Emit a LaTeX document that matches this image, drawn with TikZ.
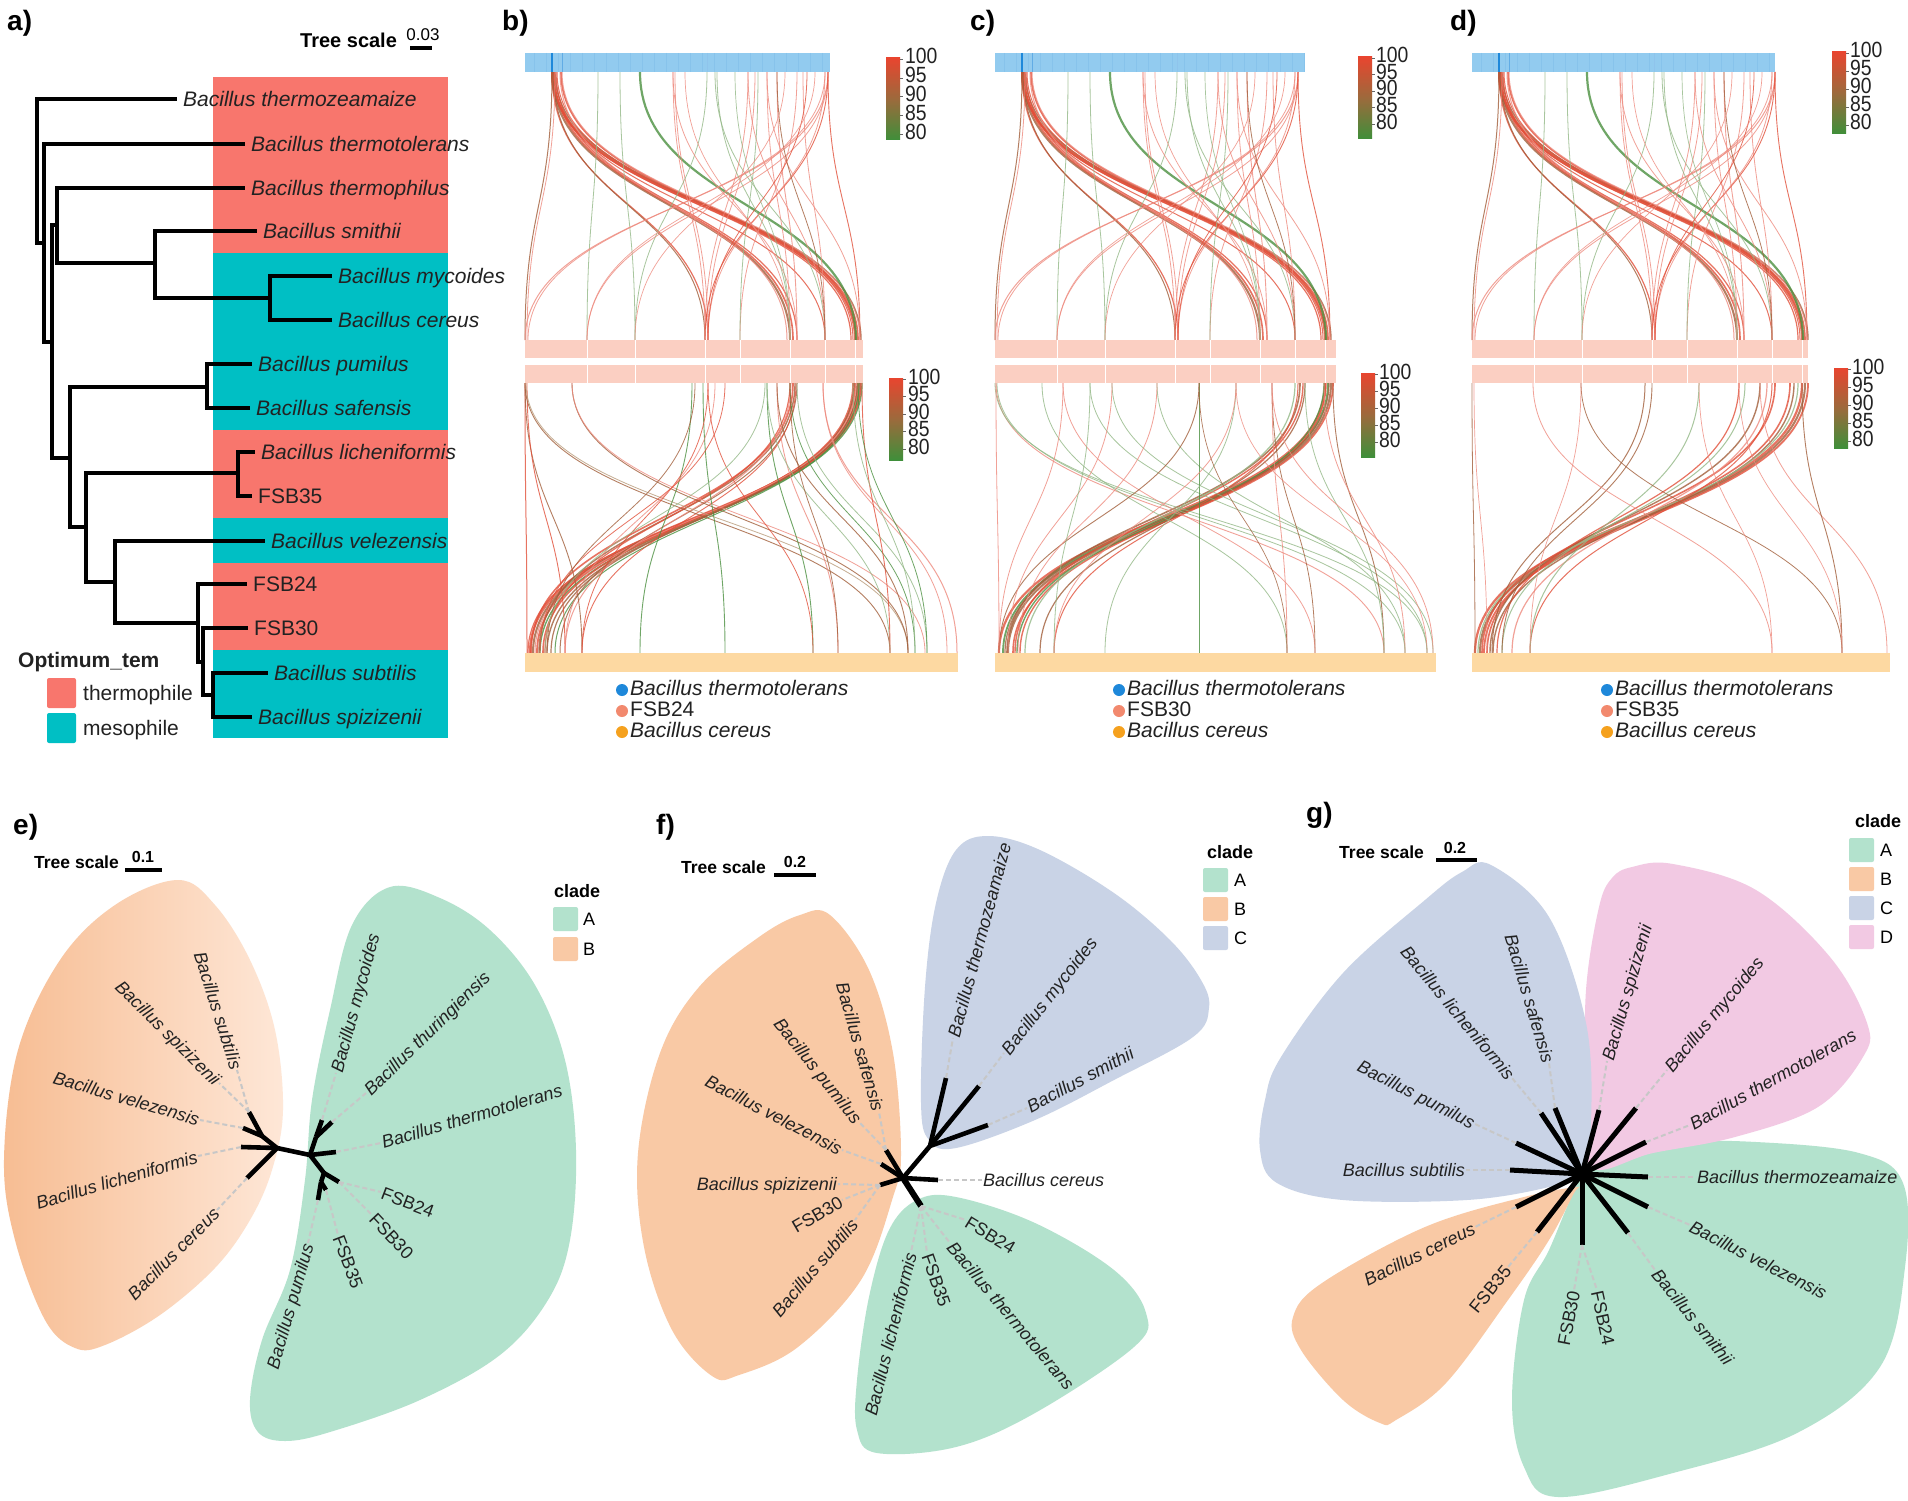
\documentclass[tikz,border=0pt]{standalone}
\usepackage{fontspec}
\setmainfont{Liberation Sans}
\definecolor{txt}{HTML}{222222}
\definecolor{thermo}{HTML}{F8766D}
\definecolor{meso}{HTML}{00BFC4}
\definecolor{cA}{HTML}{B3E2CD}
\definecolor{cB}{HTML}{F9C9A5}
\definecolor{cBd}{HTML}{F7BD93}
\definecolor{cBl}{HTML}{FEE7D7}
\definecolor{cC}{HTML}{C9D3E6}
\definecolor{cD}{HTML}{F2C9E3}
\definecolor{bblue}{HTML}{92CBEF}
\definecolor{sblue}{HTML}{7DBDE8}
\definecolor{bpink}{HTML}{FBCFC2}
\definecolor{borange}{HTML}{FDD9A2}
\definecolor{sr}{HTML}{E2503A}
\definecolor{sb}{HTML}{A25E3A}
\definecolor{sg}{HTML}{4C9040}
\definecolor{sp}{HTML}{EE8A7E}
\definecolor{sq}{HTML}{93B886}
\definecolor{so}{HTML}{B89A78}
\definecolor{dblue}{HTML}{1E88DA}
\definecolor{dsalmon}{HTML}{F2896E}
\definecolor{dorange}{HTML}{F5A11E}
\definecolor{cbred}{HTML}{E8452F}
\definecolor{cbmid}{HTML}{9C6A3C}
\definecolor{cbgreen}{HTML}{3F8F3A}

\def\UHlist{27/330/sr/2.0, 28/333/sr/1.6, 30/336/sb/1.4, 27/326/sr/1.2, 32/328/sr/1.0, 36/331/sr/1.6, 37/335/sp/1.0, 29/300/sr/1.0, 27/265/sb/2.0, 29/268/sr/1.6, 31/272/sr/1.2, 35/262/sp/1.0, 27/183/sr/1.2, 28/180/sb/1.0, 27/0/sb/1.0, 30/2/sp/0.8, 115/331/sg/2.2, 73/62/sq/0.8, 95/110/sq/0.8, 148/180/sp/0.8, 150/183/sp/0.8, 182/110/sq/0.8, 190/300/sq/0.8, 223/180/sp/0.8, 230/183/sp/0.8, 242/265/sp/0.8, 252/272/sp/0.9, 272/215/sp/0.8, 278/300/sp/0.8, 303/0/sp/1.0, 300/3/sp/0.8, 303/62/sp/0.8, 303/180/sr/0.9, 300/183/sp/0.8, 303/335/sr/0.9, 223/300/sp/0.8, 242/335/sp/0.8, 252/300/sb/0.8, 192/265/sq/0.8, 233/215/sq/0.8, 148/272/sp/0.8, 160/265/sp/0.7, 260/110/sp/0.7, 282/183/sr/0.8, 290/62/sp/0.7, 210/265/sq/0.7}
\def\LHb{333/5/sr/2.2, 335/8/sb/2.0, 330/12/sr/1.8, 337/15/sg/1.4, 328/18/sr/1.6, 332/22/sb/1.4, 336/3/sr/1.2, 329/26/sb/1.2, 334/30/sg/1.0, 331/10/sp/1.0, 268/6/sr/1.6, 270/14/sb/1.4, 265/20/sr/1.2, 272/35/sb/1.0, 266/40/sp/1.0, 271/57/sr/0.9, 0/2/sr/1.0, 0/57/sb/0.9, 2/40/sr/0.9, 0/365/sb/0.9, 1/383/so/0.8, 47/383/sb/0.9, 47/400/sp/0.8, 167/115/sg/0.9, 178/200/sg/0.9, 183/57/sr/0.8, 242/288/sg/0.9, 252/313/sp/0.9, 242/365/sq/0.8, 265/390/sg/0.8, 272/402/sq/0.8, 298/432/sp/1.0, 298/422/sp/0.8, 337/365/sr/0.9, 333/402/sg/0.8, 328/390/sq/0.8, 190/40/sp/0.8, 200/15/sr/0.8, 170/22/sb/0.8, 252/383/sb/0.9, 265/313/sb/0.8, 183/288/sr/0.8, 240/20/sq/0.8}
\def\LHc{330/4/sr/2.2, 333/8/sg/1.8, 336/13/sb/2.0, 338/18/sr/1.6, 329/22/sg/1.4, 331/25/sr/1.4, 334/10/sb/1.2, 305/12/sb/1.6, 308/20/sr/1.4, 300/30/sq/1.2, 310/45/sb/1.2, 303/59/sr/1.0, 1/389/sp/0.9, 2/410/sq/0.8, 0/432/sq/0.8, 1/4/sp/0.8, 47/292/sq/0.8, 68/320/sp/0.8, 95/432/sq/0.8, 117/438/sq/0.8, 162/410/sq/0.8, 204/204/sg/0.8, 204/4/sb/0.9, 241/110/sq/0.8, 241/59/sp/0.8, 277/320/sb/0.8, 277/292/sp/0.8, 338/389/sb/0.9, 329/410/sp/0.8, 162/23/sp/0.8, 117/13/sp/0.8, 68/4/sp/0.8, 95/59/sq/0.8, 310/389/sq/0.8, 277/438/sp/0.8, 204/292/sb/0.7, 241/432/sp/0.7}
\def\LHd{330/3/sr/2.2, 333/8/sb/2.0, 336/12/sr/1.8, 318/15/sr/1.6, 322/21/sb/1.4, 326/6/sq/1.2, 303/10/sr/1.6, 288/18/sb/1.4, 267/25/sr/1.2, 295/40/sp/1.2, 300/58/sr/1.0, 273/30/sq/1.0, 173/20/sb/1.0, 227/58/sq/1.0, 180/30/sb/0.9, 0/3/sb/0.8, 61/300/sp/0.8, 109/370/sb/0.8, 288/415/sp/0.8, 330/370/sb/0.9, 227/300/sp/0.7, 267/370/sp/0.7, 2/15/sp/0.7, 109/58/sp/0.7}

\newcommand\synpanel[5]{%
\begin{scope}[shift={(#1,0)}]
 \foreach \a/\b/\c/\w in \UHlist {\draw[draw=\c, line width=\w pt, draw opacity=.8] (\a,72) .. controls (\a,206) and (\b,206) .. (\b,340);}
 \foreach \a/\b/\c/\w in #5 {\draw[draw=\c, line width=\w pt, draw opacity=.8] (\a,383) .. controls (\a,518) and (\b,518) .. (\b,653);}
 \fill[bblue] (0,53) rectangle (#2,72);
 \foreach \t in {9,21,...,#2} {\draw[sblue, line width=.5pt, draw opacity=.5] (\t,53) -- (\t,72);}
 \draw[dblue, line width=1.4pt] (27,53) -- (27,72);
 \draw[dblue!70, line width=1pt] (37,53) -- (37,72);
 \draw[dblue!50, line width=.8pt] (182,53) -- (182,72);
 \fill[bpink] (0,340) rectangle (#3,358);
 \fill[bpink] (0,365) rectangle (#3,383);
 \foreach \t in {62,110,180,215,265,300,330} {\draw[white, line width=.7pt] (\t,340) -- (\t,383);}
 \fill[borange] (0,653) rectangle (#4,672);
\end{scope}}

\newcommand\cbar[6]{% name, x, ytop, ybot, labelx, step
 \shade[top color=cbred, bottom color=cbgreen, middle color=cbmid] (#2,#3) rectangle ({#2+14},#4);
 \foreach \v [count=\i from 0] in {100,95,90,85,80} {
   \draw[black!60, line width=.5pt] ({#2+14},{#6*\i+#3+1}) -- ({#2+17},{#6*\i+#3+1});
   \node[cbl] (#1\i) at (#5,{#3-1+#6*\i}) {\v};}
}

\begin{document}
\begin{tikzpicture}[x=1pt,y=-1pt,
 lab/.style={font=\fontsize{21}{24}\selectfont, text=txt, inner sep=0pt, text height=15pt, text depth=0pt},
 tl/.style={font=\fontsize{18}{20}\selectfont\itshape, text=txt, inner sep=1pt, text height=13pt, text depth=0pt},
 tlu/.style={font=\fontsize{18}{20}\selectfont, text=txt, inner sep=1pt, text height=13pt, text depth=0pt},
 pl/.style={font=\fontsize{28}{30}\selectfont\bfseries, inner sep=0pt, anchor=base west},
 ts/.style={font=\fontsize{17.5}{19}\selectfont\bfseries, inner sep=0pt, anchor=base west},
 tsn/.style={font=\fontsize{16}{18}\selectfont\bfseries, inner sep=0pt, anchor=base},
 cbl/.style={font=\fontsize{22}{22}\selectfont, text=txt, inner sep=0pt, anchor=west, text height=14pt, text depth=0pt, xscale=.88},
 abr/.style={line width=3.4pt, line join=miter},
 br/.style={line width=4.6pt, line cap=butt, line join=round},
 dsh/.style={draw=black!22, line width=2pt, dash pattern=on 5pt off 3pt},
 lgd/.style={font=\fontsize{18}{20}\selectfont, inner sep=0pt, anchor=west},
 lgt/.style={font=\fontsize{18}{20}\selectfont\bfseries, inner sep=0pt, anchor=base west},
]
\useasboundingbox (0,0) rectangle (1908,1501);
\fill[white] (0,0) rectangle (1908,1501);

%%%%%%%%%%%%%%%% panel a
\node[pl] (pa) at (7,31) {a)};
\node[ts, font=\fontsize{20}{22}\selectfont\bfseries] (tsa) at (300,48) {Tree scale};
\coordinate (sba1) at (410,48); \coordinate (sba2) at (432,48);
\draw[line width=3.5pt] (sba1) -- (sba2);
\node[tsn, font=\fontsize{17}{18}\selectfont] (tsna) at (423,41) {0.03};

\fill[thermo] (213,77) rectangle (448,253);
\fill[meso] (213,253) rectangle (448,430);
\fill[thermo] (213,430) rectangle (448,518);
\fill[meso] (213,518) rectangle (448,563);
\fill[thermo] (213,563) rectangle (448,650);
\fill[meso] (213,650) rectangle (448,738);

\coordinate (aR) at (37,171);  \coordinate (aN2) at (44,243);  \coordinate (aN3) at (52,342);
\coordinate (aN4) at (57,225); \coordinate (aN6) at (155,263); \coordinate (aN7) at (270,298);
\coordinate (aN5) at (70,458); \coordinate (aN8) at (207,387); \coordinate (aN9) at (86,527);
\coordinate (aN10) at (238,473); \coordinate (aN11) at (115,582); \coordinate (aN12) at (198,623);
\coordinate (aN13) at (203,662); \coordinate (aN14) at (213,695);
\coordinate (aT1) at (177,99);  \coordinate (aT2) at (245,144); \coordinate (aT3) at (245,188);
\coordinate (aT4) at (257,231); \coordinate (aT5) at (332,276); \coordinate (aT6) at (332,320);
\coordinate (aT7) at (252,364); \coordinate (aT8) at (250,408); \coordinate (aT9) at (255,452);
\coordinate (aT10) at (252,496); \coordinate (aT11) at (265,541); \coordinate (aT12) at (247,584);
\coordinate (aT13) at (248,628); \coordinate (aT14) at (268,673); \coordinate (aT15) at (252,717);
\draw[abr] (aR) |- (aT1); \draw[abr] (aR) |- (aN2);
\draw[abr] (aN2) |- (aT2); \draw[abr] (aN2) |- (aN3);
\draw[abr] (aN3) |- (aN4); \draw[abr] (aN3) |- (aN5);
\draw[abr] (aN4) |- (aT3); \draw[abr] (aN4) |- (aN6);
\draw[abr] (aN6) |- (aT4); \draw[abr] (aN6) |- (aN7);
\draw[abr] (aN7) |- (aT5); \draw[abr] (aN7) |- (aT6);
\draw[abr] (aN5) |- (aN8); \draw[abr] (aN5) |- (aN9);
\draw[abr] (aN8) |- (aT7); \draw[abr] (aN8) |- (aT8);
\draw[abr] (aN9) |- (aN10); \draw[abr] (aN9) |- (aN11);
\draw[abr] (aN10) |- (aT9); \draw[abr] (aN10) |- (aT10);
\draw[abr] (aN11) |- (aT11); \draw[abr] (aN11) |- (aN12);
\draw[abr] (aN12) |- (aT12); \draw[abr] (aN12) |- (aN13);
\draw[abr] (aN13) |- (aT13); \draw[abr] (aN13) |- (aN14);
\draw[abr] (aN14) |- (aT14); \draw[abr] (aN14) |- (aT15);

\node[lab,anchor=west] (la1) at (183,99) {\textit{Bacillus thermozeamaize}};
\node[lab,anchor=west] (la2) at (251,144) {\textit{Bacillus thermotolerans}};
\node[lab,anchor=west] (la3) at (251,188) {\textit{Bacillus thermophilus}};
\node[lab,anchor=west] (la4) at (263,231) {\textit{Bacillus smithii}};
\node[lab,anchor=west] (la5) at (338,276) {\textit{Bacillus mycoides}};
\node[lab,anchor=west] (la6) at (338,320) {\textit{Bacillus cereus}};
\node[lab,anchor=west] (la7) at (258,364) {\textit{Bacillus pumilus}};
\node[lab,anchor=west] (la8) at (256,408) {\textit{Bacillus safensis}};
\node[lab,anchor=west] (la9) at (261,452) {\textit{Bacillus licheniformis}};
\node[lab,anchor=west] (la10) at (258,496) {FSB35};
\node[lab,anchor=west] (la11) at (271,541) {\textit{Bacillus velezensis}};
\node[lab,anchor=west] (la12) at (253,584) {FSB24};
\node[lab,anchor=west] (la13) at (254,628) {FSB30};
\node[lab,anchor=west] (la14) at (274,673) {\textit{Bacillus subtilis}};
\node[lab,anchor=west] (la15) at (258,717) {\textit{Bacillus spizizenii}};

\node[font=\fontsize{21}{24}\selectfont\bfseries, text=txt, inner sep=0pt, anchor=base west] (aleg) at (18,667) {Optimum\_tem};
\fill[thermo, rounded corners=2pt] (47,678) rectangle (76,708);
\fill[meso, rounded corners=2pt] (47,713) rectangle (76,743);
\node[lab,anchor=west] (aleg1) at (83,693) {thermophile};
\node[lab,anchor=west] (aleg2) at (83,728) {mesophile};

%%%%%%%%%%%%%%%% panels b c d
\node[pl] (pb) at (502,31) {b)};
\node[pl] (pc) at (970,31) {c)};
\node[pl] (pd) at (1450,31) {d)};
\synpanel{525}{305}{338}{433}{\LHb}
\synpanel{995}{310}{341}{441}{\LHc}
\synpanel{1472}{303}{336}{418}{\LHd}

\cbar{cbb1}{886}{58}{140}{905}{18.8}
\cbar{cbb2}{889}{378}{460}{908}{17.5}
\cbar{cbc1}{1358}{57}{139}{1376}{16.5}
\cbar{cbc2}{1361}{373}{457}{1379}{17}
\cbar{cbd1}{1832}{52}{134}{1850}{18}
\cbar{cbd2}{1834}{368}{448}{1852}{18}

\foreach \px/\nm/\k in {622/FSB24/b, 1119/FSB30/c, 1607/FSB35/d} {
  \fill[dblue] (\px,690) circle[radius=6pt];
  \fill[dsalmon] (\px,711) circle[radius=6pt];
  \fill[dorange] (\px,732) circle[radius=6pt];
  \node[lab,anchor=west] (lg\k1) at (\px+8,688) {\textit{Bacillus thermotolerans}};
  \node[lab,anchor=west] (lg\k2) at (\px+8,709) {\nm};
  \node[lab,anchor=west] (lg\k3) at (\px+8,730) {\textit{Bacillus cereus}};
}

%%%%%%%%%%%%%%%% panel e
\node[pl] (pe) at (13,834) {e)};
\node[ts] (tse) at (34,868) {Tree scale};
\coordinate (sbe1) at (125,870); \coordinate (sbe2) at (162,870);
\draw[line width=4pt] (sbe1) -- (sbe2);
\node[tsn] (tsne) at (143,862) {0.1};
\node[lgt] (lge) at (554,897) {clade};
\fill[cA, rounded corners=2pt] (553,907) rectangle (578,931);
\fill[cB, rounded corners=2pt] (553,937) rectangle (578,961);
\node[lgd] (lgeA) at (583,919) {A};
\node[lgd] (lgeB) at (583,949) {B};

\shade[left color=cBd, right color=cBl] plot[smooth cycle, tension=0.6] coordinates {(178,880) (215,905) (250,960) (275,1030) (283,1110) (272,1170) (250,1220) (215,1268) (160,1315) (105,1345) (75,1348) (45,1320) (15,1240) (4,1160) (18,1050) (60,960) (115,905)};
\fill[cA] plot[smooth cycle, tension=0.6] coordinates {(390,887) (440,898) (490,930) (535,985) (565,1060) (576,1150) (570,1240) (548,1300) (500,1355) (420,1400) (330,1432) (285,1441) (258,1432) (250,1400) (262,1340) (290,1270) (305,1180) (312,1100) (330,1010) (352,925)};

\coordinate (eB0) at (277,1148); \coordinate (eB1) at (262,1136); \coordinate (eA0) at (310,1155);
\coordinate (eA1) at (316,1137); \coordinate (eA2) at (324,1173); \coordinate (eA3) at (321,1182);
\coordinate (eTsub) at (249,1112); \coordinate (eTvel) at (243,1128); \coordinate (eTlic) at (241,1147);
\coordinate (eTcer) at (247,1178); \coordinate (eTmyc) at (322,1120); \coordinate (eTthu) at (332,1122);
\coordinate (eTthe) at (336,1152); \coordinate (eT24) at (339,1182); \coordinate (eT35) at (326,1190);
\coordinate (eTpum) at (318,1200);
\draw[br] (eB0) -- (eA0);
\draw[br] (eB0) -- (eB1); \draw[br] (eB1) -- (eTsub); \draw[br] (eB1) -- (eTvel);
\draw[br] (eB0) -- (eTlic); \draw[br] (eB0) -- (eTcer);
\draw[br] (eA0) -- (eA1); \draw[br] (eA1) -- (eTmyc); \draw[br] (eA1) -- (eTthu);
\draw[br] (eA0) -- (eTthe); \draw[br] (eA0) -- (eA2); \draw[br] (eA2) -- (eT24);
\draw[br] (eA2) -- (eA3); \draw[br] (eA3) -- (eTpum); \draw[br] (eA3) -- (eT35);

\node[tl, rotate=-72.5, anchor=east] (e1) at (237,1070) {Bacillus subtilis};
\node[tl, rotate=-44.7, anchor=east] (e2) at (219,1083) {Bacillus spizizenii};
\node[tl, rotate=-16.5, anchor=east] (e3) at (200,1120) {Bacillus velezensis};
\node[tl, rotate=16.4, anchor=east] (e4) at (198,1156) {Bacillus licheniformis};
\node[tl, rotate=45, anchor=east] (e5) at (217,1210) {Bacillus cereus};
\node[tl, rotate=74.9, anchor=west] (e6) at (336,1073) {Bacillus mycoides};
\node[tl, rotate=44.5, anchor=west] (e7) at (366,1093) {Bacillus thuringiensis};
\node[tl, rotate=16.4, anchor=west] (e8) at (381,1143) {Bacillus thermotolerans};
\node[tlu, rotate=-21, anchor=west] (e9) at (381,1192) {FSB24};
\node[tlu, rotate=-47, anchor=west] (e10) at (372,1215) {FSB30};
\node[tlu, rotate=-69, anchor=west] (e11) at (338,1235) {FSB35};
\node[tl, rotate=74, anchor=east] (e12) at (308,1243) {Bacillus pumilus};
\draw[dsh] (eTsub) -- (e1.east); \draw[dsh] (eTsub) -- (e2.east); \draw[dsh] (eTvel) -- (e3.east);
\draw[dsh] (eTlic) -- (e4.east); \draw[dsh] (eTcer) -- (e5.east);
\draw[dsh] (eTmyc) -- (e6.west); \draw[dsh] (eTthu) -- (e7.west); \draw[dsh] (eTthe) -- (e8.west);
\draw[dsh] (eT24) -- (e9.west); \draw[dsh] (eT24) -- (e10.west); \draw[dsh] (eT35) -- (e11.west);
\draw[dsh] (eTpum) -- (e12.east);

%%%%%%%%%%%%%%%% panel f
\node[pl] (pf) at (656,834) {f)};
\node[ts] (tsf) at (681,873) {Tree scale};
\coordinate (sbf1) at (774,875); \coordinate (sbf2) at (816,875);
\draw[line width=4pt] (sbf1) -- (sbf2);
\node[tsn] (tsnf) at (795,867) {0.2};
\node[lgt] (lgf) at (1207,858) {clade};
\fill[cA, rounded corners=2pt] (1203,868) rectangle (1228,892);
\fill[cB, rounded corners=2pt] (1203,897) rectangle (1228,921);
\fill[cC, rounded corners=2pt] (1203,926) rectangle (1228,950);
\node[lgd] (lgfA) at (1234,880) {A};
\node[lgd] (lgfB) at (1234,909) {B};
\node[lgd] (lgfC) at (1234,938) {C};

\fill[cC] plot[smooth cycle, tension=0.6] coordinates {(988,836) (1040,850) (1114,893) (1170,940) (1201,980) (1209,1008) (1193,1037) (1114,1080) (1035,1120) (956,1148) (929,1140) (921,1103) (925,987) (936,903) (956,850)};
\fill[cB] plot[smooth cycle, tension=0.6] coordinates {(830,915) (869,970) (893,1053) (901,1153) (893,1197) (861,1280) (798,1347) (739,1375) (712,1376) (672,1330) (644,1247) (638,1153) (660,1053) (699,987) (759,937) (800,915)};
\fill[cA] plot[smooth cycle, tension=0.6] coordinates {(917,1200) (956,1197) (1035,1223) (1114,1270) (1146,1313) (1134,1347) (1035,1413) (956,1447) (877,1453) (857,1430) (857,1380) (869,1297) (889,1230)};

\coordinate (fC) at (903,1178); \coordinate (fBn1) at (886,1150); \coordinate (fBn3) at (881,1164);
\coordinate (fBn2) at (880,1185); \coordinate (fCn) at (930,1146); \coordinate (fT1) at (946,1078);
\coordinate (fT2) at (979,1086); \coordinate (fT3) at (988,1125); \coordinate (fTc) at (938,1180);
\coordinate (fAn) at (921,1206);
\draw[br] (fC) -- (fBn1); \draw[br] (fC) -- (fBn3); \draw[br] (fC) -- (fBn2);
\draw[br] (fC) -- (fCn); \draw[br] (fCn) -- (fT1); \draw[br] (fCn) -- (fT2); \draw[br] (fCn) -- (fT3);
\draw[br] (fC) -- (fTc); \draw[br, line width=6pt] (fC) -- (fAn);

\node[tl, rotate=-74, anchor=east] (f1) at (879,1112) {Bacillus safensis};
\node[tl, rotate=-51.5, anchor=east] (f2) at (859,1122) {Bacillus pumilus};
\node[tl, rotate=-27.4, anchor=east] (f3) at (842,1150) {Bacillus velezensis};
\node[tl, anchor=east] (f4) at (838,1184) {Bacillus spizizenii};
\node[tlu, rotate=30, anchor=east] (f5) at (842,1200) {FSB30};
\node[tl, rotate=49.7, anchor=east] (f6) at (855,1220) {Bacillus subtilis};
\node[tl, rotate=75, anchor=west] (f7) at (953,1038) {Bacillus thermozeamaize};
\node[tl, rotate=51.8, anchor=west] (f8) at (1004,1053) {Bacillus mycoides};
\node[tl, rotate=28, anchor=west] (f9) at (1027,1108) {Bacillus smithii};
\node[tl, anchor=west] (f10) at (982,1180) {Bacillus cereus};
\node[tlu, rotate=-31.5, anchor=west] (f11) at (966,1220) {FSB24};
\node[tl, rotate=-50, anchor=west] (f12) at (950,1243) {Bacillus thermotolerans};
\node[tlu, rotate=-70.6, anchor=west] (f13) at (927,1253) {FSB35};
\node[tl, rotate=76, anchor=east] (f14) at (911,1252) {Bacillus licheniformis};
\draw[dsh] (fBn1) -- (f1.east); \draw[dsh] (fBn1) -- (f2.east); \draw[dsh] (fBn3) -- (f3.east);
\draw[dsh] (fBn2) -- (f4.east); \draw[dsh] (fBn2) -- (f5.east); \draw[dsh] (fBn2) -- (f6.east);
\draw[dsh] (fT1) -- (f7.west); \draw[dsh] (fT2) -- (f8.west); \draw[dsh] (fT3) -- (f9.west);
\draw[dsh] (fTc) -- (f10.west); \draw[dsh] (fAn) -- (f11.west); \draw[dsh] (fAn) -- (f12.west);
\draw[dsh] (fAn) -- (f13.west); \draw[dsh] (fAn) -- (f14.east);

%%%%%%%%%%%%%%%% panel g
\node[pl] (pg) at (1306,822) {g)};
\node[ts] (tsg) at (1339,858) {Tree scale};
\coordinate (sbg1) at (1436,860); \coordinate (sbg2) at (1477,860);
\draw[line width=4pt] (sbg1) -- (sbg2);
\node[tsn] (tsng) at (1455,853) {0.2};
\node[lgt] (lgg) at (1855,827) {clade};
\fill[cA, rounded corners=2pt] (1849,838) rectangle (1874,862);
\fill[cB, rounded corners=2pt] (1849,867) rectangle (1874,891);
\fill[cC, rounded corners=2pt] (1849,896) rectangle (1874,920);
\fill[cD, rounded corners=2pt] (1849,925) rectangle (1874,949);
\node[lgd] (lggA) at (1880,850) {A};
\node[lgd] (lggB) at (1880,879) {B};
\node[lgd] (lggC) at (1880,908) {C};
\node[lgd] (lggD) at (1880,937) {D};

\fill[cA] plot[smooth cycle, tension=0.6] coordinates {(1600,1160) (1673,1143) (1756,1142) (1859,1153) (1903,1183) (1905,1267) (1880,1367) (1797,1433) (1673,1473) (1558,1497) (1524,1467) (1512,1400) (1524,1300) (1549,1250) (1578,1183)};
\fill[cB] plot[smooth cycle, tension=0.6] coordinates {(1578,1187) (1524,1197) (1425,1227) (1322,1283) (1293,1317) (1301,1350) (1343,1400) (1380,1423) (1396,1420) (1446,1383) (1508,1300) (1549,1240) (1574,1193)};
\fill[cD] plot[smooth cycle, tension=0.6] coordinates {(1632,867) (1673,864) (1756,890) (1830,957) (1867,1023) (1863,1057) (1818,1107) (1735,1137) (1653,1153) (1591,1167) (1586,1090) (1586,990) (1599,907) (1612,878)};
\fill[cC] plot[smooth cycle, tension=0.6] coordinates {(1491,865) (1549,917) (1586,1023) (1591,1123) (1582,1173) (1549,1187) (1467,1200) (1343,1200) (1277,1183) (1260,1150) (1265,1100) (1281,1057) (1343,973) (1425,900) (1462,872)};

\coordinate (gC) at (1582,1174);
\coordinate (gT1) at (1510,1170); \coordinate (gT2) at (1516,1143); \coordinate (gT3) at (1541,1113);
\coordinate (gT4) at (1555,1108); \coordinate (gT5) at (1599,1110); \coordinate (gT6) at (1636,1108);
\coordinate (gT7) at (1646,1142); \coordinate (gT8) at (1648,1177); \coordinate (gT9) at (1648,1207);
\coordinate (gT10) at (1628,1233); \coordinate (gT11) at (1582,1245); \coordinate (gT13) at (1537,1232);
\coordinate (gT14) at (1516,1207);
\foreach \t in {1,2,3,4,5,6,7,8,9,10,11,13,14} {\draw[br, line width=5pt] (gC) -- (gT\t);}

\node[tl, anchor=east] (g1) at (1466,1170) {Bacillus subtilis};
\node[tl, rotate=-27, anchor=east] (g2) at (1475,1124) {Bacillus pumilus};
\node[tl, rotate=-50.3, anchor=east] (g3) at (1512,1078) {Bacillus licheniformis};
\node[tl, rotate=-73.4, anchor=east] (g4) at (1549,1063) {Bacillus safensis};
\node[tl, rotate=74, anchor=west] (g5) at (1607,1061) {Bacillus spizizenii};
\node[tl, rotate=50, anchor=west] (g6) at (1667,1070) {Bacillus mycoides};
\node[tl, rotate=29, anchor=west] (g7) at (1690,1125) {Bacillus thermotolerans};
\node[tl, anchor=west] (g8) at (1696,1177) {Bacillus thermozeamaize};
\node[tl, rotate=-27, anchor=west] (g9) at (1690,1225) {Bacillus velezensis};
\node[tl, rotate=-51, anchor=west] (g10) at (1655,1270) {Bacillus smithii};
\node[tlu, rotate=-77.7, anchor=west] (g11) at (1597,1290) {FSB24};
\node[tlu, rotate=79, anchor=east] (g12) at (1574,1290) {FSB30};
\node[tlu, rotate=51, anchor=east] (g13) at (1508,1267) {FSB35};
\node[tl, rotate=26, anchor=east] (g14) at (1475,1227) {Bacillus cereus};
\draw[dsh] (gT1) -- (g1.east); \draw[dsh] (gT2) -- (g2.east); \draw[dsh] (gT3) -- (g3.east);
\draw[dsh] (gT4) -- (g4.east); \draw[dsh] (gT5) -- (g5.west); \draw[dsh] (gT6) -- (g6.west);
\draw[dsh] (gT7) -- (g7.west); \draw[dsh] (gT8) -- (g8.west); \draw[dsh] (gT9) -- (g9.west);
\draw[dsh] (gT10) -- (g10.west); \draw[dsh] (gT11) -- (g11.west); \draw[dsh] (gT11) -- (g12.east);
\draw[dsh] (gT13) -- (g13.east); \draw[dsh] (gT14) -- (g14.east);
\end{tikzpicture}
\end{document}
